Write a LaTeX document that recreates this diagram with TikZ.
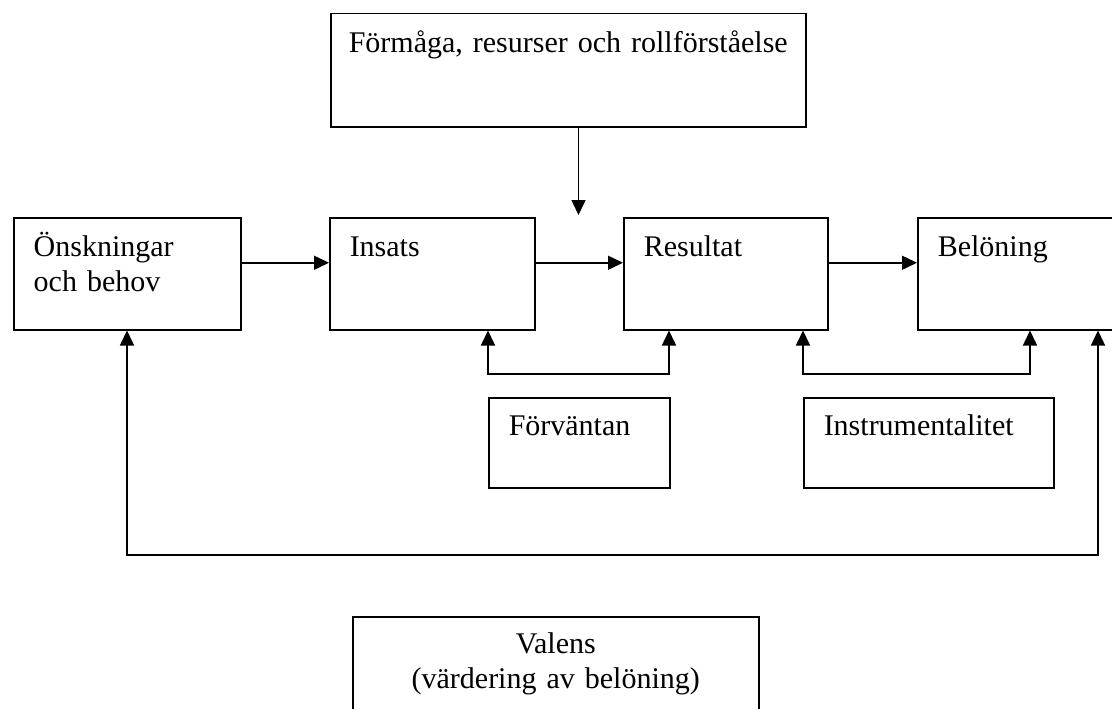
\documentclass[tikz,border=0pt]{standalone}
\usepackage{fontspec}
\setmainfont{Liberation Serif}
\usetikzlibrary{arrows.meta}

\tikzset{
  box/.style={draw, line width=1.5pt, anchor=north west, inner xsep=20pt, inner ysep=0pt,
    align=left, text height=39pt},
  link/.style={line width=1.5pt, -{Triangle[length=15pt,width=14pt]}},
  twoway/.style={line width=1.5pt, {Triangle[length=15pt,width=14pt]}-{Triangle[length=15pt,width=14pt]}},
}

\begin{document}
\begin{tikzpicture}[x=1pt,y=-1pt,font=\fontsize{30}{35}\selectfont]
    \useasboundingbox (0,0) rectangle (1112,709);
    \fill[white] (0,0) rectangle (1112,709);

    % --- 1. Rutor ---
    \node[box, inner xsep=18pt, text width=439pt, text depth=74pt] (abil) at (330,13) {\mbox{Förmåga, resurser och rollförståelse}};

    \node[box, text width=187pt, text depth=73pt] (wish) at (13,217) {Önskningar\\och behov};
    \node[box, text width=165pt, text depth=73pt] (effort) at (329,217) {Insats};
    \node[box, text width=164pt, text depth=73pt] (result) at (623,217) {Resultat};
    \node[box, text width=165pt, text depth=73pt] (reward) at (917,217) {Belöning};

    \node[box, text width=141pt, text height=38pt, text depth=52pt] (expect) at (488,397) {Förväntan};
    \node[box, text width=210pt, text height=38pt, text depth=52pt] (instr) at (803,397) {Instrumentalitet};

    \node[box, align=center, text width=366pt, text height=37pt, text depth=67pt] (val) at (352,616) {Valens\\(värdering av belöning)};

    % --- 2. Pilar i kedjan ---
    \coordinate (drop) at (578.5,215);
    \draw[link] (abil.south -| drop) -- (drop);
    \draw[link] ([yshift=11pt]wish.east) -- ([yshift=11pt]effort.west);
    \draw[link] ([yshift=11pt]effort.east) -- ([yshift=11pt]result.west);
    \draw[link] ([yshift=11pt]result.east) -- ([yshift=11pt]reward.west);

    % --- 3. Återkopplingar ---
    \coordinate (e1) at (488,374); \coordinate (e2) at (669,374);
    \draw[twoway] (effort.south -| e1) -- (e1) -- (e2) -- (result.south -| e2);

    \coordinate (i1) at (803,374); \coordinate (i2) at (1030,374);
    \draw[twoway] (result.south -| i1) -- (i1) -- (i2) -- (reward.south -| i2);

    \coordinate (v1) at (127,555); \coordinate (v2) at (1098,555);
    \draw[twoway] (wish.south -| v1) -- (v1) -- (v2) -- (reward.south -| v2);

\end{tikzpicture}
\end{document}
